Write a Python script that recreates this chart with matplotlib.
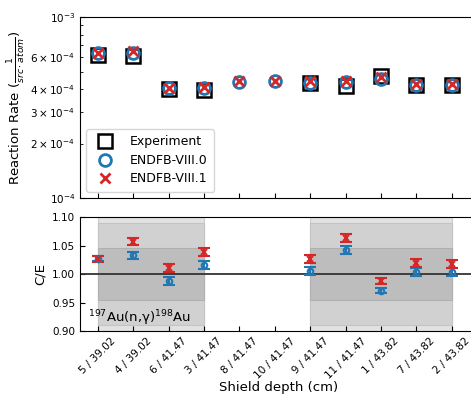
import matplotlib.pyplot as plt
import numpy as np

# Posiciones del detector / espesor del blindaje
labels = ['5 / 39.02', '4 / 39.02', '6 / 41.47', '3 / 41.47', '8 / 41.47',
          '10 / 41.47', '9 / 41.47', '11 / 41.47', '1 / 43.82', '7 / 43.82',
          '2 / 43.82']

# Tasas de reaccion (1/(src*atom)); None = sin medida
exp_rate = [6.15e-4, 6.1e-4, 4.0e-4, 3.95e-4, None, None, 4.3e-4, 4.16e-4,
            4.7e-4, 4.19e-4, 4.2e-4]
e80_rate = [6.3e-4, 6.3e-4, 4.05e-4, 4.03e-4, 4.4e-4, 4.43e-4, 4.32e-4,
            4.35e-4, 4.57e-4, 4.2e-4, 4.21e-4]
e81_rate = [6.3e-4, 6.45e-4, 4.05e-4, 4.1e-4, 4.42e-4, 4.43e-4, 4.41e-4,
            4.42e-4, 4.64e-4, 4.27e-4, 4.27e-4]

# C/E
ce80 = [1.027, 1.033, 0.988, 1.016, None, None, 1.005, 1.043, 0.971, 1.003, 1.004]
ce81 = [1.026, 1.057, 1.010, 1.038, None, None, 1.026, 1.063, 0.988, 1.019, 1.017]
ce80_err = [0.005, 0.006, 0.007, 0.007, 0, 0, 0.007, 0.007, 0.005, 0.007, 0.007]
ce81_err = [0.005, 0.006, 0.007, 0.007, 0, 0, 0.007, 0.007, 0.005, 0.007, 0.007]

# Bandas de incertidumbre experimental
groups = [(0, 3), (6, 10)]
band_outer = 0.15
band_mid = 0.09
band_inner = 0.045

x = np.arange(len(labels))

fig = plt.figure(figsize=(4.71, 3.96), dpi=100)
ax1 = fig.add_axes([0.170, 0.500, 0.842, 0.457])
ax2 = fig.add_axes([0.170, 0.164, 0.842, 0.288])

# Panel superior
xe = [i for i, v in enumerate(exp_rate) if v is not None]
ye = [v for v in exp_rate if v is not None]
ax1.plot(xe, ye, 's', ms=9.5, mfc='none', mec='k', mew=1.8, label='Experiment')
ax1.plot(x, e80_rate, 'o', ms=8.5, mfc='none', mec='#1f77b4', mew=2, label='ENDFB-VIII.0')
ax1.plot(x, e81_rate, 'x', ms=7, mec='#d62728', mew=2, label='ENDFB-VIII.1')
ax1.set_yscale('log')
ax1.set_ylim(1e-4, 1e-3)
ax1.set_xlim(-0.5, 10.7)
ax1.set_xticks(x)
ax1.set_xticklabels([])
ax1.tick_params(direction='in', which='both', labelsize=7.5)
ax1.set_ylabel(r'Reaction Rate ($\frac{1}{src \cdot atom}$)', fontsize=9.5, labelpad=2)
ax1.legend(loc='lower left', fontsize=9, borderpad=0.5, handletextpad=1.0,
           labelspacing=0.45)

# Panel inferior
for a, b in groups:
    ax2.fill_between([a, b], 1 - band_outer, 1 + band_outer, color='#e2e2e2', ec='#cdcdcd', lw=0.8)
    ax2.fill_between([a, b], 1 - band_mid, 1 + band_mid, color='#d1d1d1', ec='#c4c4c4', lw=0.8)
    ax2.fill_between([a, b], 1 - band_inner, 1 + band_inner, color='#bdbdbd', ec='#b0b0b0', lw=0.8)
ax2.axhline(1.0, color='#333333', lw=1.3)

xv = [i for i, v in enumerate(ce80) if v is not None]
ax2.errorbar(xv, [ce80[i] for i in xv], yerr=[ce80_err[i] for i in xv], fmt='o',
             ms=4, mfc='none', mec='#1f77b4', mew=1.5, color='#1f77b4',
             elinewidth=1.5, capsize=4, capthick=2)
ax2.errorbar(xv, [ce81[i] for i in xv], yerr=[ce81_err[i] for i in xv], fmt='x',
             ms=4, mec='#d62728', mew=1.5, color='#d62728',
             elinewidth=1.5, capsize=4, capthick=2)

ax2.text(0.02, 0.08, r'$^{197}$Au(n,γ)$^{198}$Au', transform=ax2.transAxes,
         fontsize=9.5)
ax2.set_ylim(0.90, 1.10)
ax2.set_xlim(-0.5, 10.7)
ax2.set_yticks([0.90, 0.95, 1.00, 1.05, 1.10])
ax2.set_xticks(x)
ax2.set_xticklabels(labels, rotation=45)
ax2.tick_params(direction='in', labelsize=7.5)
ax2.set_ylabel('C/E', fontsize=9.5)
ax2.set_xlabel('Shield depth (cm)', fontsize=9.5, labelpad=0)

fig.savefig('out.png', dpi=100)
